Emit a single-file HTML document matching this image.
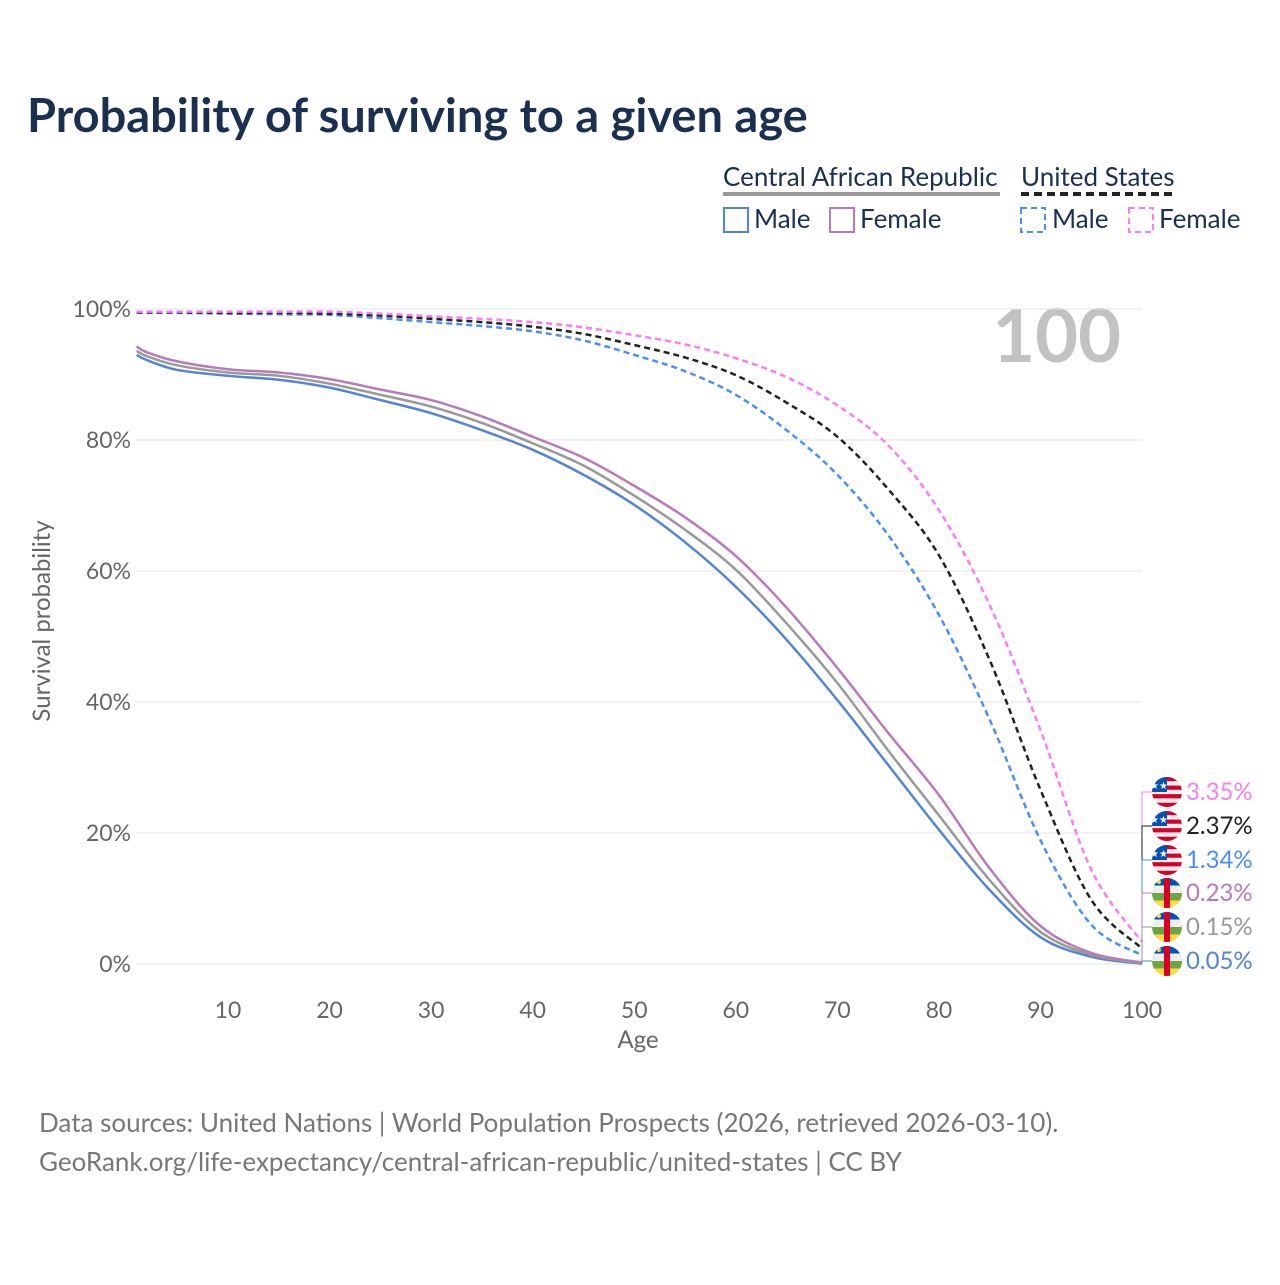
<!DOCTYPE html>
<html><head><meta charset="utf-8"><style>
body{margin:0;background:#fff;font-family:"Liberation Sans",sans-serif}
</style></head><body>
<svg id="chart" width="1280" height="1280" viewBox="0 0 1280 1280" xmlns="http://www.w3.org/2000/svg" font-family="Lato, 'Liberation Sans', sans-serif">
<rect width="1280" height="1280" fill="#fff"/>
<text x="27" y="132" font-size="47" font-weight="bold" fill="#1b3050">Probability of surviving to a given age</text>
<g font-size="26" fill="#1b3050">
<text x="723" y="186">Central African Republic</text>
<line x1="723" y1="194" x2="1000" y2="194" stroke="#9a9a9a" stroke-width="4"/>
<text x="1021" y="186">United States</text>
<line x1="1021" y1="194" x2="1176" y2="194" stroke="#222" stroke-width="4" stroke-dasharray="8,5"/>
<rect x="724" y="208" width="24" height="24" fill="none" stroke="#5585d0" stroke-width="2"/>
<text x="754" y="228">Male</text>
<rect x="830" y="208" width="24" height="24" fill="none" stroke="#b77bb8" stroke-width="2"/>
<text x="860" y="228">Female</text>
<rect x="1021" y="208" width="24" height="24" fill="none" stroke="#4c8ef7" stroke-width="2" stroke-dasharray="6,4"/>
<text x="1052" y="228">Male</text>
<rect x="1129" y="208" width="24" height="24" fill="none" stroke="#f87ff0" stroke-width="2" stroke-dasharray="6,4"/>
<text x="1159" y="228">Female</text>
</g>
<text x="1121" y="362" font-size="74" font-weight="bold" fill="#c2c2c2" text-anchor="end">100</text>
<g id="grid"></g>
<g id="series"></g>
<g id="endlabels"></g>
<text transform="translate(50,621) rotate(-90)" font-size="24" fill="#666" text-anchor="middle">Survival probability</text>
<text x="638" y="1048" font-size="24" fill="#666" text-anchor="middle">Age</text>
<text x="39" y="1132" font-size="26" fill="#777">Data sources: United Nations | World Population Prospects (2026, retrieved 2026-03-10).</text>
<text x="39" y="1171" font-size="26" fill="#777">GeoRank.org/life-expectancy/central-african-republic/united-states | CC BY</text>
</svg>
<script>
const ages=[1,2,5,10,15,20,25,30,35,40,45,50,55,60,65,70,75,80,85,90,95,100];
const carMale=[93.0,92.2,90.7,89.8,89.2,88.0,86.1,84.1,81.5,78.5,74.7,70.1,64.4,57.6,49.5,40.3,30.4,20.5,11.3,4.1,1.1,0.05];
const carBoth=[93.6,92.8,91.4,90.3,89.8,88.6,86.9,85.1,82.6,79.5,76.1,71.5,66.3,60.2,52.0,42.9,32.6,22.7,12.8,4.9,1.4,0.15];
const carFemale=[94.3,93.4,92.0,90.8,90.3,89.3,87.7,86.1,83.6,80.5,77.3,73.0,68.2,62.3,54.4,45.2,35.3,25.8,14.6,5.8,1.7,0.23];
const usMale=[99.4,99.4,99.4,99.3,99.2,99.1,98.6,98.0,97.4,96.6,95.2,93.0,90.5,86.9,81.5,74.7,65.5,53.3,37.3,18.9,6.0,1.34];
const usBoth=[99.5,99.5,99.5,99.4,99.4,99.3,99.0,98.5,98.0,97.3,96.2,94.5,92.6,89.9,85.7,80.5,72.5,62.4,46.4,26.6,9.8,2.37];
const usFemale=[99.6,99.6,99.6,99.6,99.6,99.6,99.3,98.9,98.5,98.0,97.2,96.0,94.6,92.5,89.6,85.3,79.2,69.3,54.8,35.7,14.4,3.35];
const xTicks=[10,20,30,40,50,60,70,80,90,100];
const yTicks=[0,20,40,60,80,100];
const NS="http://www.w3.org/2000/svg";
const X=a=>228+(a-10)*10.156;
const Y=v=>964-v*6.55;
const grid=document.getElementById('grid');
yTicks.forEach(t=>{
 const l=document.createElementNS(NS,'line');
 l.setAttribute('x1',136);l.setAttribute('x2',1142);l.setAttribute('y1',Y(t));l.setAttribute('y2',Y(t));
 l.setAttribute('stroke','#e6e6e6');l.setAttribute('stroke-width',1);
 
 
 grid.appendChild(l);
 const tx=document.createElementNS(NS,'text');
 tx.setAttribute('x',131);tx.setAttribute('y',Y(t)+8);tx.setAttribute('text-anchor','end');
 tx.setAttribute('font-size',23);tx.setAttribute('fill','#666');tx.textContent=t+'%';
 
 
 grid.appendChild(tx);
});
xTicks.forEach(t=>{
 const tx=document.createElementNS(NS,'text');
 tx.setAttribute('x',X(t));tx.setAttribute('y',1018);tx.setAttribute('text-anchor','middle');
 tx.setAttribute('font-size',23);tx.setAttribute('fill','#666');tx.textContent=t;
 
 
 grid.appendChild(tx);
});
const series=[
 ['car-male',carMale,'#5585d0',null],
 ['car-both',carBoth,'#999',null],
 ['car-female',carFemale,'#b77bb8',null],
 ['us-male',usMale,'#4c8ef7','6,4'],
 ['us-both',usBoth,'#222','6,4'],
 ['us-female',usFemale,'#f87ff0','6,4']];
const sg=document.getElementById('series');
function smooth(pts){
 let d='M'+pts[0][0]+','+pts[0][1];
 for(let i=0;i<pts.length-1;i++){
  const p0=pts[Math.max(i-1,0)],p1=pts[i],p2=pts[i+1],p3=pts[Math.min(i+2,pts.length-1)];
  const c1=[p1[0]+(p2[0]-p0[0])/6,p1[1]+(p2[1]-p0[1])/6];
  const c2=[p2[0]-(p3[0]-p1[0])/6,p2[1]-(p3[1]-p1[1])/6];
  d+=' C'+c1[0]+','+c1[1]+' '+c2[0]+','+c2[1]+' '+p2[0]+','+p2[1];
 }
 return d;
}
series.forEach(([n,vals,c,dash])=>{
 const p=document.createElementNS(NS,'path');
 p.setAttribute('d',smooth(ages.map((a,i)=>[X(a),Y(vals[i])])));
 p.setAttribute('fill','none');p.setAttribute('stroke',c);p.setAttribute('stroke-width',2.5);
 if(dash)p.setAttribute('stroke-dasharray',dash);
 
 
 sg.appendChild(p);
});
const labels=[['us-female',usFemale,'#f87ff0','us',792],['us-both',usBoth,'#222','us',826],['us-male',usMale,'#4c8ef7','us',860],
 ['car-female',carFemale,'#b77bb8','car',893],['car-both',carBoth,'#999','car',927],['car-male',carMale,'#5585d0','car',961]];
const eg=document.getElementById('endlabels');
let defs=document.createElementNS(NS,'defs');
const cp=document.createElementNS(NS,'clipPath');cp.setAttribute('id','fc');
const cc=document.createElementNS(NS,'circle');cc.setAttribute('cx',0);cc.setAttribute('cy',0);cc.setAttribute('r',15);
cp.appendChild(cc);defs.appendChild(cp);eg.appendChild(defs);
labels.forEach(([n,vals,c,flag,ly])=>{
 const v=vals[vals.length-1];
 const ey=Y(v);
 const pl=document.createElementNS(NS,'polyline');
 pl.setAttribute('points',`1142,${ey} 1142,${ly} 1152,${ly}`);
 pl.setAttribute('fill','none');pl.setAttribute('stroke',c);pl.setAttribute('stroke-width',1);
 
 
 eg.appendChild(pl);
 const g=document.createElementNS(NS,'g');
 g.setAttribute('transform',`translate(1167,${ly})`);
 g.setAttribute('clip-path','url(#fc)');
 
 
 let h='';
 if(flag==='us'){
  for(let k=0;k<7;k++)h+=`<rect x="-15" y="${-15+k*30/7}" width="30" height="${30/7}" fill="${k%2?'#eee':'#d80027'}"/>`;
  h+=`<rect x="-15" y="-15" width="15" height="15" fill="#0052b4"/><text x="-8" y="-3" font-size="10" fill="#fff" text-anchor="middle">★★</text>`;
 }else{
  const cs=['#0052b4','#eee','#6da544','#ffda44'];
  cs.forEach((k,i)=>h+=`<rect x="-15" y="${-15+i*7.5}" width="30" height="7.5" fill="${k}"/>`);
  h+=`<rect x="-3" y="-15" width="6" height="30" fill="#d80027"/><circle cx="-8" cy="-11" r="2" fill="#ffda44"/>`;
 }
 g.innerHTML=h;
 eg.appendChild(g);
 const t=document.createElementNS(NS,'text');
 t.setAttribute('x',1186);t.setAttribute('y',ly+8);t.setAttribute('font-size',24);t.setAttribute('fill',c);
 t.textContent=v.toFixed(2)+'%';
 
 
 eg.appendChild(t);
});
</script>
</body></html>
